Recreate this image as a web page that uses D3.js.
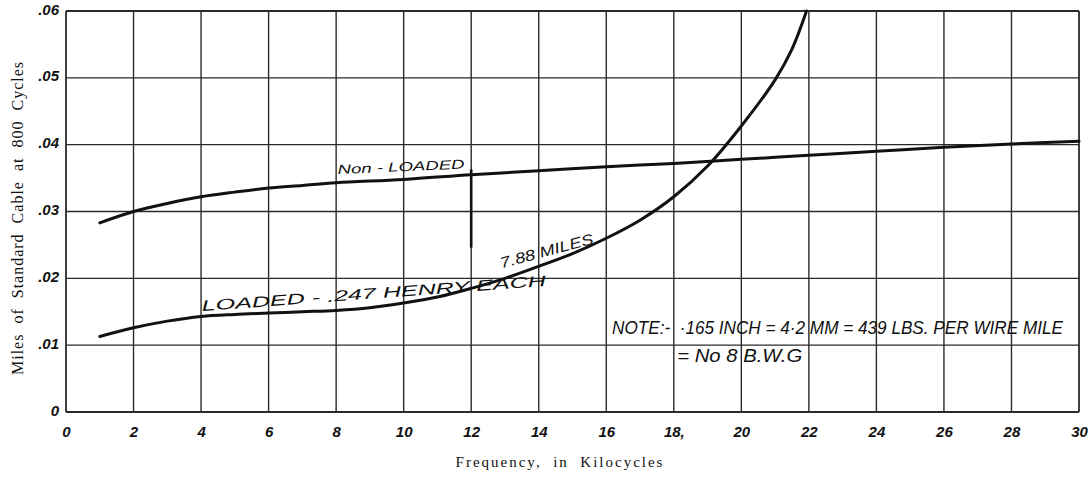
<!DOCTYPE html>
<html><head><meta charset="utf-8">
<script src="https://cdn.jsdelivr.net/npm/d3@7"></script>
<style>
html,body{margin:0;padding:0;background:#fff;}
svg{display:block;}
</style></head>
<body>
<svg id="chart" width="1090" height="479"></svg>
<script>
// ---- data ----
const xTicks = [0,2,4,6,8,10,12,14,16,18,20,22,24,26,28,30];
const xTickLabels = ["0","2","4","6","8","10","12","14","16","18,","20","22","24","26","28","30"];
const yTicks = [0,0.01,0.02,0.03,0.04,0.05,0.06];
const yTickLabels = ["0",".01",".02",".03",".04",".05",".06"];

const nonLoadedFreq = [1,2,3,4,5,6,7,8,10,12,14,16,18,20,22,24,26,28,30];
const nonLoadedMiles = [0.0283,0.0300,0.0312,0.0322,0.0329,0.0335,0.0339,0.0343,0.0348,0.0355,0.0361,0.0367,0.0372,0.0378,0.0384,0.0390,0.0396,0.0401,0.0405];

const loadedFreq = [1,2,3,4,5,6,7,8,9,10,11,12,13,14,15,16,17,18,19,20,21,21.5,21.93];
const loadedMiles = [0.0113,0.0126,0.0136,0.0143,0.0146,0.0148,0.0150,0.0152,0.0156,0.0163,0.0172,0.0185,0.0200,0.0218,0.0237,0.0260,0.0287,0.0322,0.0368,0.0428,0.0497,0.0543,0.0600];

const xTitle = "Frequency,  in  Kilocycles";
const yTitle = "Miles  of  Standard  Cable  at  800  Cycles";
const labelNonLoaded = "Non - LOADED";
const labelLoaded = "LOADED - .247 HENRY EACH";
const labelMiles = "7.88 MILES";
const noteLine1 = "NOTE:-  ·165 INCH = 4·2 MM = 439 LBS. PER WIRE MILE";
const noteLine2 = "= No 8 B.W.G";

// ---- drawing ----
const svg = d3.select("#chart");
const x = d3.scaleLinear().domain([0,30]).range([66,1079]);
const y = d3.scaleLinear().domain([0,0.06]).range([412,11]);
const ink = "#111";
const hand = "'Liberation Sans', 'DejaVu Sans', sans-serif";

// grid
const grid = svg.append("g");
grid.selectAll("line.v").data(xTicks).join("line")
  .attr("x1", d=>x(d)).attr("x2", d=>x(d))
  .attr("y1", y(0.06)).attr("y2", y(0))
  .attr("stroke", "#2a2a2a").attr("stroke-width", d => (d===0||d===30)?1.8:1.4);
grid.selectAll("line.h").data(yTicks).join("line")
  .attr("x1", x(0)).attr("x2", x(30))
  .attr("y1", d=>y(d)).attr("y2", d=>y(d))
  .attr("stroke", "#2a2a2a").attr("stroke-width", d => (d===0||d===0.06)?1.8:1.4);

// heavier pen stroke on the 12 kc line (as in original)
svg.append("line")
  .attr("x1", x(12)).attr("x2", x(12))
  .attr("y1", y(0.0363)).attr("y2", y(0.0246))
  .attr("stroke", ink).attr("stroke-width", 2.6);

// axes (tick labels only, via d3 axis)
const xAxis = d3.axisBottom(x).tickValues(xTicks)
  .tickFormat((d,i)=>xTickLabels[i]).tickSize(0).tickPadding(14);
const gx = svg.append("g").attr("transform", `translate(0,${y(0)})`).call(xAxis);
gx.select(".domain").remove();
gx.selectAll("text").attr("font-family", hand).attr("font-style","italic")
  .attr("font-weight", 600).attr("font-size", 15).attr("fill", ink);

const yAxis = d3.axisLeft(y).tickValues(yTicks)
  .tickFormat((d,i)=>yTickLabels[i]).tickSize(0).tickPadding(7);
const gy = svg.append("g").attr("transform", `translate(${x(0)},0)`).call(yAxis);
gy.select(".domain").remove();
gy.selectAll("text").attr("font-family", hand).attr("font-style","italic")
  .attr("font-weight", 600).attr("font-size", 15).attr("fill", ink).attr("dy","0.2em");

// titles
svg.append("text").attr("x", 560).attr("y", 467).attr("text-anchor","middle")
  .attr("font-family","'Liberation Serif', 'DejaVu Serif', serif").attr("font-size",15)
  .attr("letter-spacing","2px").attr("fill", ink).attr("xml:space","preserve").text(xTitle);
svg.append("text").attr("transform","translate(23,218) rotate(-90)").attr("text-anchor","middle")
  .attr("font-family","'Liberation Serif', 'DejaVu Serif', serif").attr("font-size",16)
  .attr("letter-spacing","1px").attr("fill", ink).attr("xml:space","preserve").text(yTitle);

// curves
const line = d3.line().x(d=>x(d[0])).y(d=>y(d[1])).curve(d3.curveCatmullRom.alpha(0.5));
svg.append("path").datum(d3.zip(nonLoadedFreq, nonLoadedMiles))
  .attr("d", line).attr("fill","none").attr("stroke", ink).attr("stroke-width", 3)
  .attr("stroke-linecap","round");
svg.append("path").datum(d3.zip(loadedFreq, loadedMiles))
  .attr("d", line).attr("fill","none").attr("stroke", ink).attr("stroke-width", 3)
  .attr("stroke-linecap","round");

// annotations
function note(txt, fx, fy, angle, size, len){
  svg.append("text")
    .attr("transform", `translate(${x(fx)},${y(fy)}) rotate(${angle})`)
    .attr("font-family", hand).attr("font-style","italic").attr("font-size", size)
    .attr("fill", ink).attr("textLength", len).attr("lengthAdjust","spacingAndGlyphs")
    .attr("xml:space","preserve").text(txt);
}
note(labelNonLoaded, 8.05, 0.0356, -2.5, 13, 127);
note(labelLoaded, 4.03, 0.0151, -4.2, 15, 345);
note(labelMiles, 12.9, 0.0215, -15, 15, 96);
note(noteLine1, 16.17, 0.0116, 0, 18, 451);
note(noteLine2, 18.1, 0.0075, 0, 18, 125);
</script>
</body></html>
